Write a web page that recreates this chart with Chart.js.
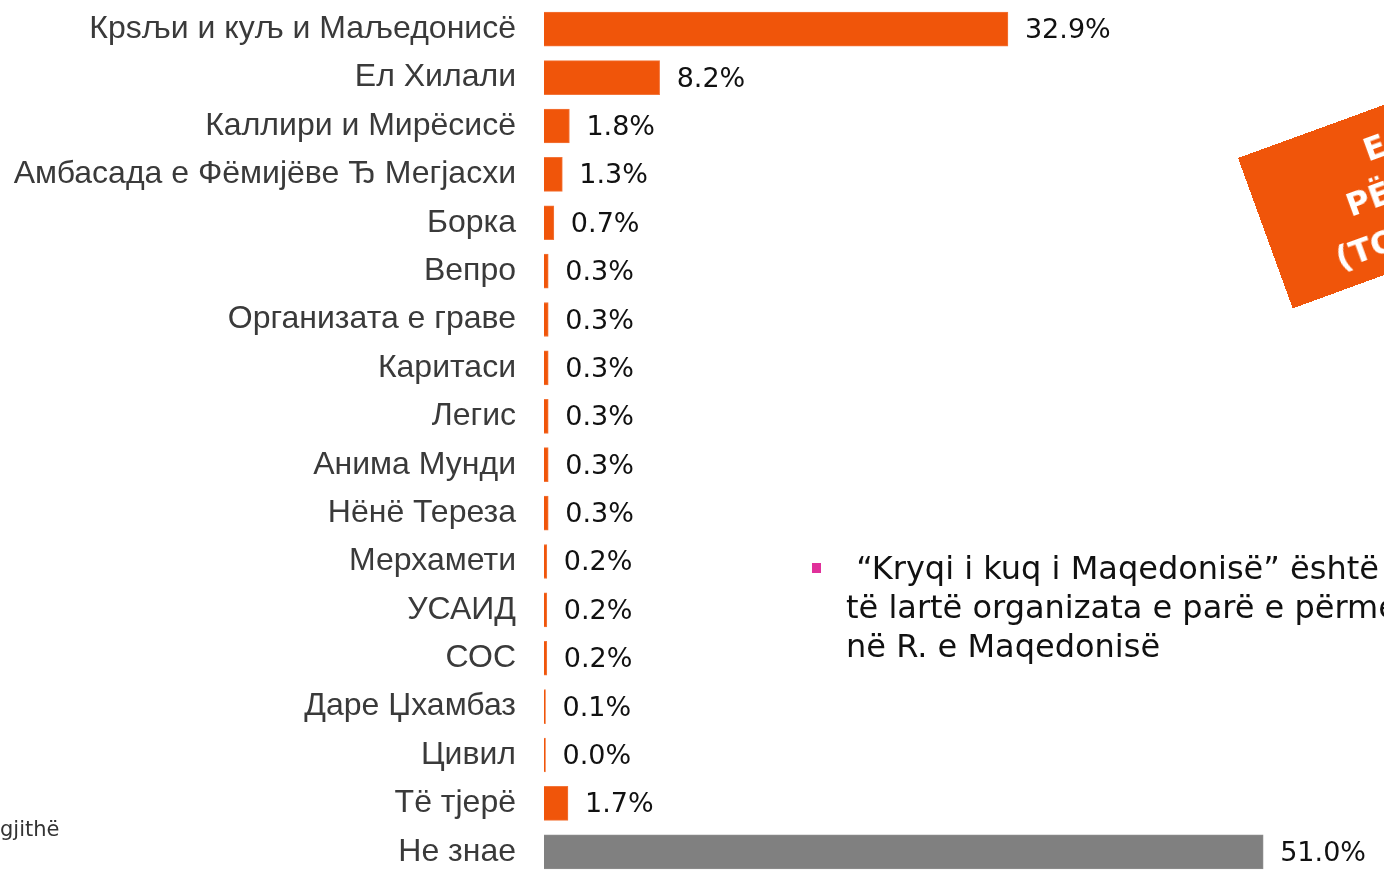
<!DOCTYPE html>
<html>
<head>
<meta charset="utf-8">
<script src="https://cdn.jsdelivr.net/npm/chart.js@4/dist/chart.umd.min.js"></script>
<style>
  html, body { margin: 0; padding: 0; background: #fff; width: 1384px; height: 872px; overflow: hidden; position: relative; }
  #c { position: absolute; left: 0; top: 0; }
  .badge { position: absolute; left: 1238px; top: 158px; width: 430px; height: 160px; background: #F0550A;
           transform-origin: 0 0; transform: rotate(-20deg); color: #fff; font-family: "DejaVu Sans", Verdana, sans-serif;
           font-weight: bold; font-size: 32px; line-height: 46px; box-sizing: border-box; padding-top: 14px; white-space: nowrap; }
  .badge span { display: block; }
  .bullet { position: absolute; left: 812px; top: 563px; width: 9px; height: 10px; background: #E0309A; }
  .note { position: absolute; left: 846px; top: 549px; font-family: "DejaVu Sans", Verdana, sans-serif; font-size: 32px;
          line-height: 39px; color: #111; white-space: nowrap; }
  .foot { position: absolute; left: 0; top: 817px; font-family: "DejaVu Sans", Verdana, sans-serif; font-size: 21px; color: #333; }
</style>
</head>
<body>
<canvas id="c" width="1384" height="880"></canvas>
<div class="badge"><span style="margin-left:121px">E PARA</span><span style="margin-left:86px">PËRMENDJA</span><span style="margin-left:58px">(TOP OF MIND)</span></div>
<div class="bullet"></div>
<div class="note">&nbsp;“Kryqi i kuq i Maqedonisë” është në vend<br>të lartë organizata e parë e përmendur<br>në R. e Maqedonisë</div>
<div class="foot">gjithë</div>
<script>
const categories = [
  "Крѕљи и куљ и Маљедонисё",
  "Ел Хилали",
  "Каллири и Мирёсисё",
  "Амбасада е Фёмијёве Ђ Мегјасхи",
  "Борка",
  "Вепро",
  "Организата е граве",
  "Каритаси",
  "Легис",
  "Анима Мунди",
  "Нёнё Тереза",
  "Мерхамети",
  "УСАИД",
  "СОС",
  "Даре Џхамбаз",
  "Цивил",
  "Тё тјерё",
  "Не знае"
];
const values = [32.9, 8.2, 1.8, 1.3, 0.7, 0.3, 0.3, 0.3, 0.3, 0.3, 0.3, 0.2, 0.2, 0.2, 0.1, 0.0, 1.7, 51.0];
const barColors = categories.map((c, i) => i === categories.length - 1 ? "#808080" : "#F0550A");
const borderColors = categories.map((c, i) => i === categories.length - 1 ? "#8c8c8c" : "#F3753A");

const valueLabels = {
  id: "valueLabels",
  afterDatasetsDraw(chart) {
    const ctx = chart.ctx;
    const meta = chart.getDatasetMeta(0);
    ctx.save();
    ctx.font = '27px "DejaVu Sans", Verdana, sans-serif';
    ctx.fillStyle = "#111";
    ctx.textAlign = "left";
    ctx.textBaseline = "middle";
    meta.data.forEach((bar, i) => {
      ctx.fillText(values[i].toFixed(1) + "%", bar.x + 17, bar.y + 2);
    });
    ctx.restore();
  }
};

new Chart(document.getElementById("c"), {
  type: "bar",
  data: {
    labels: categories,
    datasets: [{
      data: values,
      backgroundColor: barColors,
      borderColor: borderColors,
      borderWidth: 1,
      barThickness: 34,
      minBarLength: 1.5
    }]
  },
  options: {
    indexAxis: "y",
    responsive: false,
    animation: false,
    devicePixelRatio: 1,
    layout: { padding: { top: 5, bottom: 4, left: 0, right: 8 } },
    plugins: { legend: { display: false }, tooltip: { enabled: false } },
    scales: {
      x: { display: false, min: 0, max: 59 },
      y: {
        grid: { display: false, drawTicks: false },
        border: { display: false },
        ticks: {
          padding: 28,
          color: "#3a3a3a",
          font: { family: '"Liberation Sans", Arial, sans-serif', size: 32 }
        },
        afterFit(scale) { scale.width = 544; scale.paddingTop = 0; scale.paddingBottom = 0; }
      }
    }
  },
  plugins: [valueLabels]
});
</script>
</body>
</html>
